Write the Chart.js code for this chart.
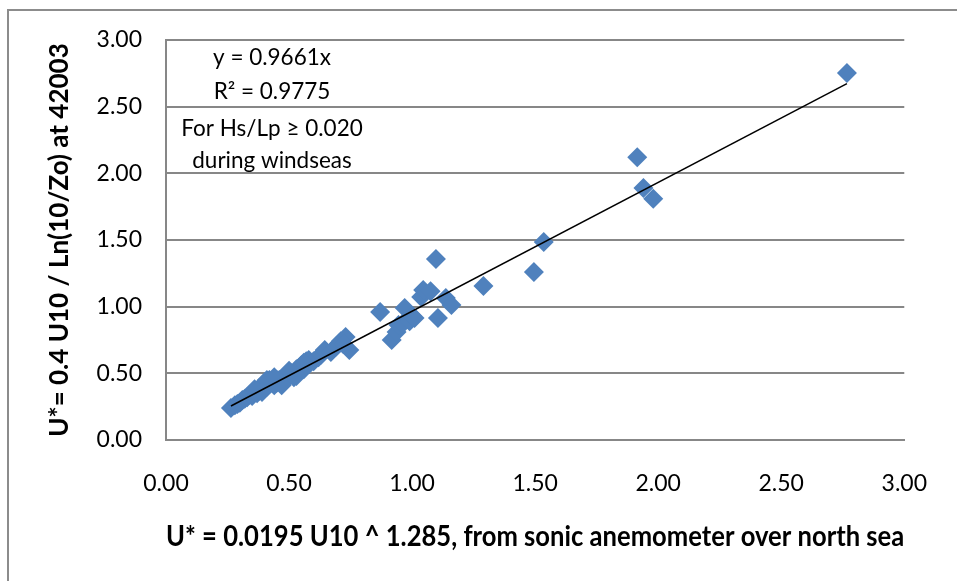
<!DOCTYPE html>
<html>
<head>
<meta charset="utf-8">
<script src="https://cdn.jsdelivr.net/npm/chart.js@4.4.1/dist/chart.umd.min.js"></script>
<style>
  body { margin: 0; background: #fff; }
  #wrap { position: relative; width: 957px; height: 581px; overflow: hidden; }
  #frame { position: absolute; left: 7px; top: 9px; width: 1000px; height: 1000px;
           border-left: 2px solid #8c8c8c; border-top: 2px solid #8c8c8c; }
  canvas { position: absolute; left: 0; top: 0; }
</style>
</head>
<body>
<div id="wrap">
  <div id="frame"></div>
  <canvas id="chart" width="957" height="581"></canvas>
</div>
<script>
// U* from sonic anemometer formula (x) vs U* from log profile at 42003 (y)
const xValues = [
  0.264, 0.28, 0.29, 0.30, 0.31, 0.32, 0.33, 0.34, 0.35, 0.35,
  0.36, 0.37, 0.38, 0.38, 0.39, 0.40, 0.40, 0.41, 0.42, 0.42,
  0.43, 0.44, 0.45, 0.45, 0.46, 0.47, 0.48, 0.49, 0.49, 0.50,
  0.51, 0.52, 0.53, 0.54, 0.55, 0.56, 0.57, 0.58, 0.58, 0.60,
  0.62, 0.63, 0.645, 0.67, 0.69, 0.705, 0.71, 0.73, 0.72, 0.745,
  0.36, 0.41, 0.44, 0.47, 0.50, 0.53, 0.56, 0.39,
  0.87, 0.917, 0.937, 0.945, 0.96, 0.97, 0.99, 1.00, 1.01, 1.037,
  1.045, 1.075, 1.097, 1.105, 1.137, 1.16, 1.29, 1.495, 1.535, 1.915,
  1.94, 1.98, 2.767
];
const yValues = [
  0.240, 0.26, 0.27, 0.28, 0.30, 0.31, 0.32, 0.34, 0.33, 0.35,
  0.36, 0.35, 0.37, 0.39, 0.40, 0.41, 0.43, 0.40, 0.42, 0.45,
  0.44, 0.41, 0.45, 0.43, 0.45, 0.44, 0.47, 0.49, 0.46, 0.48,
  0.50, 0.47, 0.53, 0.54, 0.56, 0.53, 0.59, 0.57, 0.60, 0.59,
  0.62, 0.64, 0.675, 0.66, 0.70, 0.728, 0.74, 0.773, 0.72, 0.675,
  0.38, 0.45, 0.47, 0.41, 0.52, 0.48, 0.58, 0.36,
  0.96, 0.75, 0.81, 0.863, 0.87, 0.99, 0.89, 0.93, 0.915, 1.073,
  1.125, 1.115, 1.358, 0.915, 1.065, 1.013, 1.155, 1.26, 1.485, 2.12,
  1.89, 1.81, 2.753
];
const trendSlope = 0.9661;
const tickValues = [0, 0.5, 1, 1.5, 2, 2.5, 3];
const noteLines = ["y = 0.9661x", "R\u00b2 = 0.9775", "For Hs/Lp \u2265 0.020", "during windseas"];
const xTitle = "U* = 0.0195 U10 ^ 1.285, from sonic anemometer over north sea";
const yTitle = "U*= 0.4 U10 / Ln(10/Zo) at 42003";

const points = xValues.map((x, i) => ({ x: x, y: yValues[i] }));
const xMin = Math.min(...xValues), xMax = Math.max(...xValues);
const trend = [{ x: xMin, y: trendSlope * xMin }, { x: xMax, y: trendSlope * xMax }];

const gridGray = '#878787';
const tickFont = { family: 'Lato', size: 23 };

// draws the equation / condition text box
const notePlugin = {
  id: 'note',
  afterDraw(chart) {
    const ctx = chart.ctx;
    const cx = chart.chartArea.left + 106;
    const ys = [58, 92, 129, 161];
    ctx.save();
    ctx.font = '22.5px Lato';
    ctx.fillStyle = '#000';
    ctx.textAlign = 'center';
    ctx.textBaseline = 'middle';
    noteLines.forEach((t, i) => ctx.fillText(t, cx, ys[i]));
    ctx.restore();
  }
};

new Chart(document.getElementById('chart'), {
  type: 'scatter',
  data: {
    datasets: [
      {
        label: 'Linear fit',
        data: trend,
        showLine: true,
        borderColor: '#000',
        borderWidth: 1.5,
        pointRadius: 0
      },
      {
        label: 'U*',
        data: points,
        pointStyle: 'rectRot',
        pointRadius: 10,
        backgroundColor: '#4F81BD',
        borderColor: '#4F81BD',
        borderWidth: 0
      }
    ]
  },
  options: {
    responsive: false,
    animation: false,
    layout: { padding: { left: 0, top: 40, right: 42, bottom: 0 } },
    plugins: { legend: { display: false }, tooltip: { enabled: false } },
    scales: {
      x: {
        type: 'linear',
        min: 0,
        max: 3,
        afterFit(s) { s.height = 141; },
        afterBuildTicks(s) { s.ticks = tickValues.map(v => ({ value: v })); },
        ticks: { font: tickFont, color: '#000', padding: 30, callback: v => v.toFixed(2) },
        grid: { display: false, drawTicks: false },
        border: { display: true, color: gridGray, width: 2 },
        title: { display: true, text: xTitle, font: { family: 'Lato', size: 28, weight: 'bold' }, color: '#000', padding: { top: 0, bottom: 27 } }
      },
      y: {
        type: 'linear',
        min: 0,
        max: 3,
        afterFit(s) { s.width = 166; },
        afterBuildTicks(s) { s.ticks = tickValues.map(v => ({ value: v })); },
        ticks: { font: tickFont, color: '#000', padding: 24, callback: v => v.toFixed(2) },
        grid: { color: gridGray, lineWidth: 2, drawTicks: false },
        border: { display: true, color: gridGray, width: 2 },
        title: { display: true, text: yTitle, font: { family: 'Lato', size: 26, weight: 'bold' }, color: '#000', padding: { top: 44, bottom: 0 } }
      }
    }
  },
  plugins: [notePlugin]
});
</script>
</body>
</html>
